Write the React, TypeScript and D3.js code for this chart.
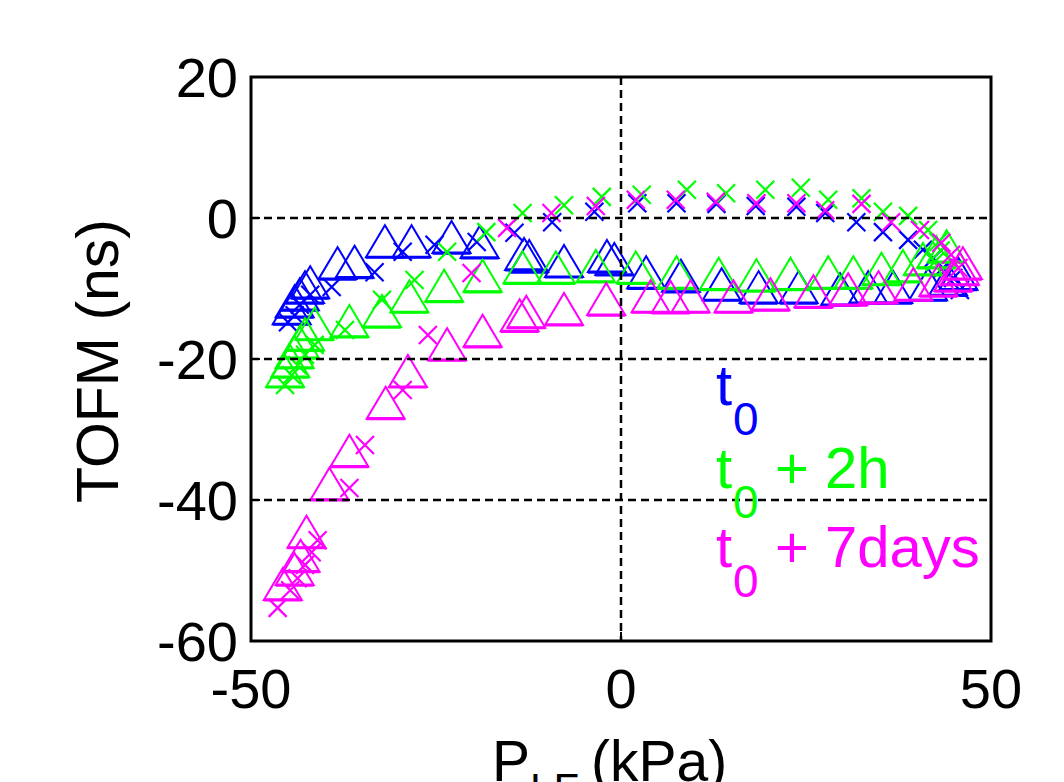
import React from "react";
import * as d3 from "d3";

// triangle markers (one sweep) and cross markers (other sweep), [P_LF kPa, TOFM ns]
const t0Tri: [number, number][] = [
  [-44.5, -12.8], [-44.1, -11.8], [-43.4, -10.8], [-42.7, -9.8], [-42.0, -9.1],
  [-38.3, -6.4], [-36.0, -6.2], [-31.9, -3.3], [-28.3, -3.3], [-22.9, -2.7],
  [-19.1, -3.4], [-13.1, -5.1], [-12.4, -5.4], [-7.7, -6.1], [-1.9, -5.4],
  [-0.9, -5.8], [3.4, -7.7], [8.1, -8.2], [13.6, -9.4], [18.6, -9.8],
  [24.0, -9.8], [29.6, -10.1], [33.4, -9.8], [36.8, -9.8], [41.5, -9.4],
  [44.2, -8.7], [45.6, -7.9],
];
const t0Cross: [number, number][] = [
  [-45.0, -14.8], [-44.1, -13.8], [-43.4, -12.3], [-42.0, -10.9], [-39.1, -9.8],
  [-33.3, -7.7], [-29.5, -4.8], [-25.2, -3.8], [-19.5, -3.4], [-14.4, -2.1],
  [-9.3, -0.6], [-3.6, 0.9], [2.2, 2.1], [7.5, 2.1], [12.9, 2.0],
  [18.2, 1.7], [23.7, 1.6], [27.6, 0.7], [31.8, -0.6], [35.4, -2.0],
  [38.8, -3.1], [40.8, -4.5], [42.2, -5.7], [43.5, -7.1], [44.9, -8.5],
  [45.8, -10.2],
];
const h2Tri: [number, number][] = [
  [-45.4, -21.7], [-44.7, -20.3], [-44.1, -19.0], [-43.4, -17.6], [-42.7, -16.5],
  [-41.4, -15.0], [-36.7, -14.6], [-32.3, -13.2], [-28.6, -11.1], [-23.9, -9.6],
  [-18.7, -8.2], [-13.3, -7.0], [-8.8, -7.0], [-3.4, -6.8], [2.0, -7.0],
  [7.5, -7.7], [13.2, -7.9], [18.3, -8.1], [22.9, -7.9], [28.0, -7.7],
  [31.4, -7.7], [35.2, -7.2], [38.1, -6.8], [40.8, -5.8], [42.6, -4.8],
  [44.0, -4.0],
];
const h2Cross: [number, number][] = [
  [-45.4, -23.7], [-44.5, -22.3], [-43.7, -20.9], [-42.7, -19.4], [-41.4, -18.0],
  [-37.3, -15.9], [-32.3, -11.6], [-27.9, -8.8], [-23.5, -4.8], [-18.2, -2.0],
  [-13.3, 0.7], [-7.7, 1.8], [-2.6, 3.0], [2.8, 3.3], [8.9, 4.0],
  [14.2, 3.5], [19.5, 4.0], [24.3, 4.3], [28.0, 2.6], [32.5, 2.8],
  [35.4, 0.9], [38.8, 0.3], [41.5, -1.7], [42.9, -3.4], [43.2, -4.6],
  [42.4, -6.2],
];
const d7Tri: [number, number][] = [
  [-45.7, -51.9], [-44.1, -49.8], [-43.3, -47.9], [-42.5, -44.5], [-39.4, -37.7],
  [-36.7, -33.0], [-31.8, -26.2], [-28.8, -21.7], [-23.5, -17.9], [-18.7, -16.0],
  [-13.7, -13.8], [-12.8, -13.3], [-7.7, -12.9], [-2.0, -11.5], [4.0, -11.1],
  [6.7, -11.2], [9.4, -11.1], [15.2, -11.1], [20.2, -10.8], [26.0, -10.4],
  [30.7, -10.1], [34.8, -9.8], [39.5, -9.4], [42.9, -8.8], [44.9, -8.1],
  [45.8, -7.2], [46.2, -6.4],
];
const d7Cross: [number, number][] = [
  [-46.4, -55.3], [-44.7, -52.8], [-43.7, -51.1], [-42.7, -49.2], [-41.8, -47.4],
  [-41.0, -45.7], [-36.7, -38.3], [-34.6, -32.2], [-29.5, -24.4], [-26.1, -16.6],
  [-20.2, -7.8], [-15.4, -1.4], [-9.4, 0.7], [-3.4, 1.7], [2.0, 2.6],
  [7.4, 2.6], [12.8, 2.3], [18.3, 2.1], [23.7, 2.1], [27.6, 1.1],
  [32.5, 2.0], [36.5, -0.6], [40.4, -1.7], [43.3, -3.5], [44.6, -5.2],
  [45.6, -7.1],
];

const xTicks = [-50, 0, 50];
const yTicks = [20, 0, -20, -40, -60];
const xGrid = [0];
const yGrid = [0, -20, -40];

const series = [
  { color: "#0000ff", tri: t0Tri, cross: t0Cross },
  { color: "#00ff00", tri: h2Tri, cross: h2Cross },
  { color: "#ff00ff", tri: d7Tri, cross: d7Cross },
];

const legend = [
  { color: "#0000ff", rest: "" },
  { color: "#00ff00", rest: "+ 2h" },
  { color: "#ff00ff", rest: "+ 7days" },
];

export default function App() {
  const W = 1064, H = 782;
  const plot = { left: 251, right: 991, top: 77, bottom: 641 };
  const x = d3.scaleLinear().domain([-50, 50]).range([plot.left, plot.right]);
  const y = d3.scaleLinear().domain([-60, 20]).range([plot.bottom, plot.top]);
  const font = "'Liberation Sans', Arial, sans-serif";
  const triW = 19, triH = 16, cr = 9;

  return (
    <svg width={W} height={H} style={{ position: "absolute", left: 0, top: 0, background: "#fff" }}>
      <defs>
        <clipPath id="clip">
          <rect x={plot.left - 30} y={plot.top} width={plot.right - plot.left + 30} height={plot.bottom - plot.top + 30} />
        </clipPath>
      </defs>
      <g clipPath="url(#clip)">
        {series.map((s, si) => (
          <g key={si} stroke={s.color} fill="none">
            {s.tri.map(([a, b], i) => {
              const cx = x(a), cy = y(b);
              return (
                <g key={"t" + i}>
                  <path d={`M${cx - triW},${cy + triH}L${cx},${cy - triH}L${cx + triW},${cy + triH}Z`} strokeWidth={2} />
                  <line x1={cx - triW} x2={cx + triW} y1={cy + triH} y2={cy + triH} strokeWidth={3.2} />
                </g>
              );
            })}
            {s.cross.map(([a, b], i) => {
              const cx = x(a), cy = y(b);
              return (
                <path key={"c" + i} d={`M${cx - cr},${cy - cr}L${cx + cr},${cy + cr}M${cx - cr},${cy + cr}L${cx + cr},${cy - cr}`} strokeWidth={2.2} />
              );
            })}
          </g>
        ))}
      </g>
      {yGrid.map(v => (
        <line key={"gy" + v} x1={plot.left} x2={plot.right} y1={y(v)} y2={y(v)} stroke="#000" strokeWidth={2.5} strokeDasharray="8,5" />
      ))}
      {xGrid.map(v => (
        <line key={"gx" + v} x1={x(v)} x2={x(v)} y1={plot.top} y2={plot.bottom} stroke="#000" strokeWidth={2.5} strokeDasharray="8,5" />
      ))}
      {xTicks.map(v => (
        <g key={"xt" + v}>
          <line x1={x(v)} x2={x(v)} y1={plot.bottom} y2={plot.bottom - 9} stroke="#000" strokeWidth={2} />
          <text x={x(v)} y={708} fontFamily={font} fontSize={56} textAnchor="middle">{v}</text>
        </g>
      ))}
      {yTicks.map(v => (
        <g key={"yt" + v}>
          <line x1={plot.left} x2={plot.left + 9} y1={y(v)} y2={y(v)} stroke="#000" strokeWidth={2} />
          <text x={238} y={y(v) + 20} fontFamily={font} fontSize={56} textAnchor="end">{v}</text>
        </g>
      ))}
      <rect x={plot.left} y={plot.top} width={plot.right - plot.left} height={plot.bottom - plot.top} fill="none" stroke="#000" strokeWidth={3} />
      <text transform="translate(118,361) rotate(-90)" fontFamily={font} fontSize={59} textAnchor="middle">TOFM (ns)</text>
      <text x={492} y={781} fontFamily={font} fontSize={57}>
        P<tspan fontSize={42} dy={22}>LF</tspan><tspan dy={-22} dx={12}>(kPa)</tspan>
      </text>
      {legend.map((l, i) => {
        const base = [405, 488, 567][i];
        return (
          <g key={"lg" + i} fill={l.color} fontFamily={font}>
            <text x={716} y={base} fontSize={58}>t</text>
            <text x={733} y={base + 30} fontSize={46}>0</text>
            {l.rest && <text x={775} y={base} fontSize={58}>{l.rest}</text>}
          </g>
        );
      })}
    </svg>
  );
}
